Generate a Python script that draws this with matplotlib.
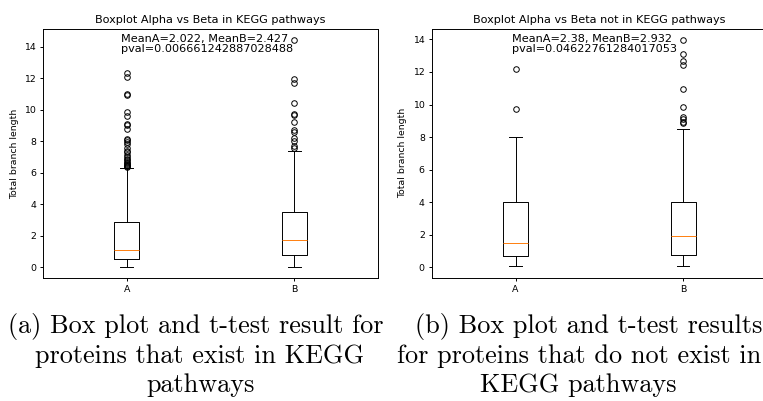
import matplotlib
matplotlib.use("Agg")
import matplotlib.pyplot as plt

# Summary statistics for each group (A = Alpha, B = Beta)
labels = ["A", "B"]

kegg_q1 = [0.51, 0.80]
kegg_med = [1.12, 1.73]
kegg_q3 = [2.87, 3.51]
kegg_whislo = [0.04, 0.04]
kegg_whishi = [6.28, 7.38]
kegg_fliers_a = [12.3, 12.1, 11.0, 10.95, 9.85, 9.6, 9.1, 9.0, 8.8, 8.15, 8.05,
                 7.95, 7.8, 7.6, 7.4, 7.3, 7.15, 7.0, 6.9, 6.8, 6.7, 6.6, 6.55,
                 6.5, 6.45, 6.4, 6.35]
kegg_fliers_b = [14.4, 11.95, 11.7, 10.4, 9.75, 9.65, 9.25, 8.7, 8.6, 8.2, 8.0,
                 7.7, 7.6]

nokegg_q1 = [0.69, 0.77]
nokegg_med = [1.49, 1.90]
nokegg_q3 = [3.99, 4.01]
nokegg_whislo = [0.04, 0.04]
nokegg_whishi = [8.0, 8.49]
nokegg_fliers_a = [12.2, 9.72]
nokegg_fliers_b = [13.95, 13.09, 12.66, 12.42, 10.93, 9.86, 9.25, 9.1, 8.94, 8.85]

titles = ["Boxplot Alpha vs Beta in KEGG pathways",
          "Boxplot Alpha vs Beta not in KEGG pathways"]
stat_texts = ["MeanA=2.022, MeanB=2.427\npval=0.006661242887028488",
              "MeanA=2.38, MeanB=2.932\npval=0.04622761284017053"]
ylabel = "Total branch length"

caption_a = ["(a) Box plot and t-test result for",
             "proteins that exist in KEGG",
             "pathways"]
caption_b = ["(b) Box plot and t-test results",
             "for proteins that do not exist in",
             "KEGG pathways"]


def make_stats(q1, med, q3, lo, hi, fliers_list):
    out = []
    for i in range(len(labels)):
        out.append(dict(label=labels[i], q1=q1[i], med=med[i], q3=q3[i],
                        whislo=lo[i], whishi=hi[i], fliers=fliers_list[i]))
    return out


W, H = 763, 401
fig = plt.figure(figsize=(W / 100, H / 100), dpi=100)

lw = 0.7
axes_rects = [
    (43 / W, 123 / H, 335 / W, 249 / H),
    (431.7 / W, 123.3 / H, 335.3 / W, 248.7 / H),
]
all_stats = [
    make_stats(kegg_q1, kegg_med, kegg_q3, kegg_whislo, kegg_whishi,
               [kegg_fliers_a, kegg_fliers_b]),
    make_stats(nokegg_q1, nokegg_med, nokegg_q3, nokegg_whislo, nokegg_whishi,
               [nokegg_fliers_a, nokegg_fliers_b]),
]
text_x = [0.232, 0.2395]

for k in range(2):
    ax = fig.add_axes(axes_rects[k])
    ax.bxp(all_stats[k], positions=[1, 2], widths=0.15,
           boxprops=dict(linewidth=lw, color="black"),
           whiskerprops=dict(linewidth=lw, color="black"),
           capprops=dict(linewidth=lw, color="black"),
           medianprops=dict(linewidth=lw, color="#ff7f0e"),
           flierprops=dict(marker="o", markersize=4, markeredgewidth=lw,
                           markerfacecolor="none", markeredgecolor="black"))
    ax.set_xlim(0.5, 2.5)
    ax.set_yticks([0, 2, 4, 6, 8, 10, 12, 14])
    ax.tick_params(labelsize=6.75, width=lw, length=2.5, pad=2.5)
    for s in ax.spines.values():
        s.set_linewidth(lw)
    ax.set_title(titles[k], fontsize=8.1, pad=4)
    ax.set_ylabel(ylabel, fontsize=6.75, labelpad=4)
    ax.text(text_x[k], 0.978, stat_texts[k], transform=ax.transAxes,
            ha="left", va="top", fontsize=8.1, linespacing=0.95)

# Sub-figure captions, each line placed by its left edge
cap_kw = dict(family="cmr10", fontsize=18.9, ha="left", va="baseline")
baselines = [333, 363, 392]
cap_a_x = [8, 35, 146.5]
cap_b_x = [415, 397, 480]
for i in range(3):
    fig.text(cap_a_x[i] / W, 1 - baselines[i] / H, caption_a[i], **cap_kw)
    fig.text(cap_b_x[i] / W, 1 - baselines[i] / H, caption_b[i], **cap_kw)

fig.savefig("out.png", dpi=100)
